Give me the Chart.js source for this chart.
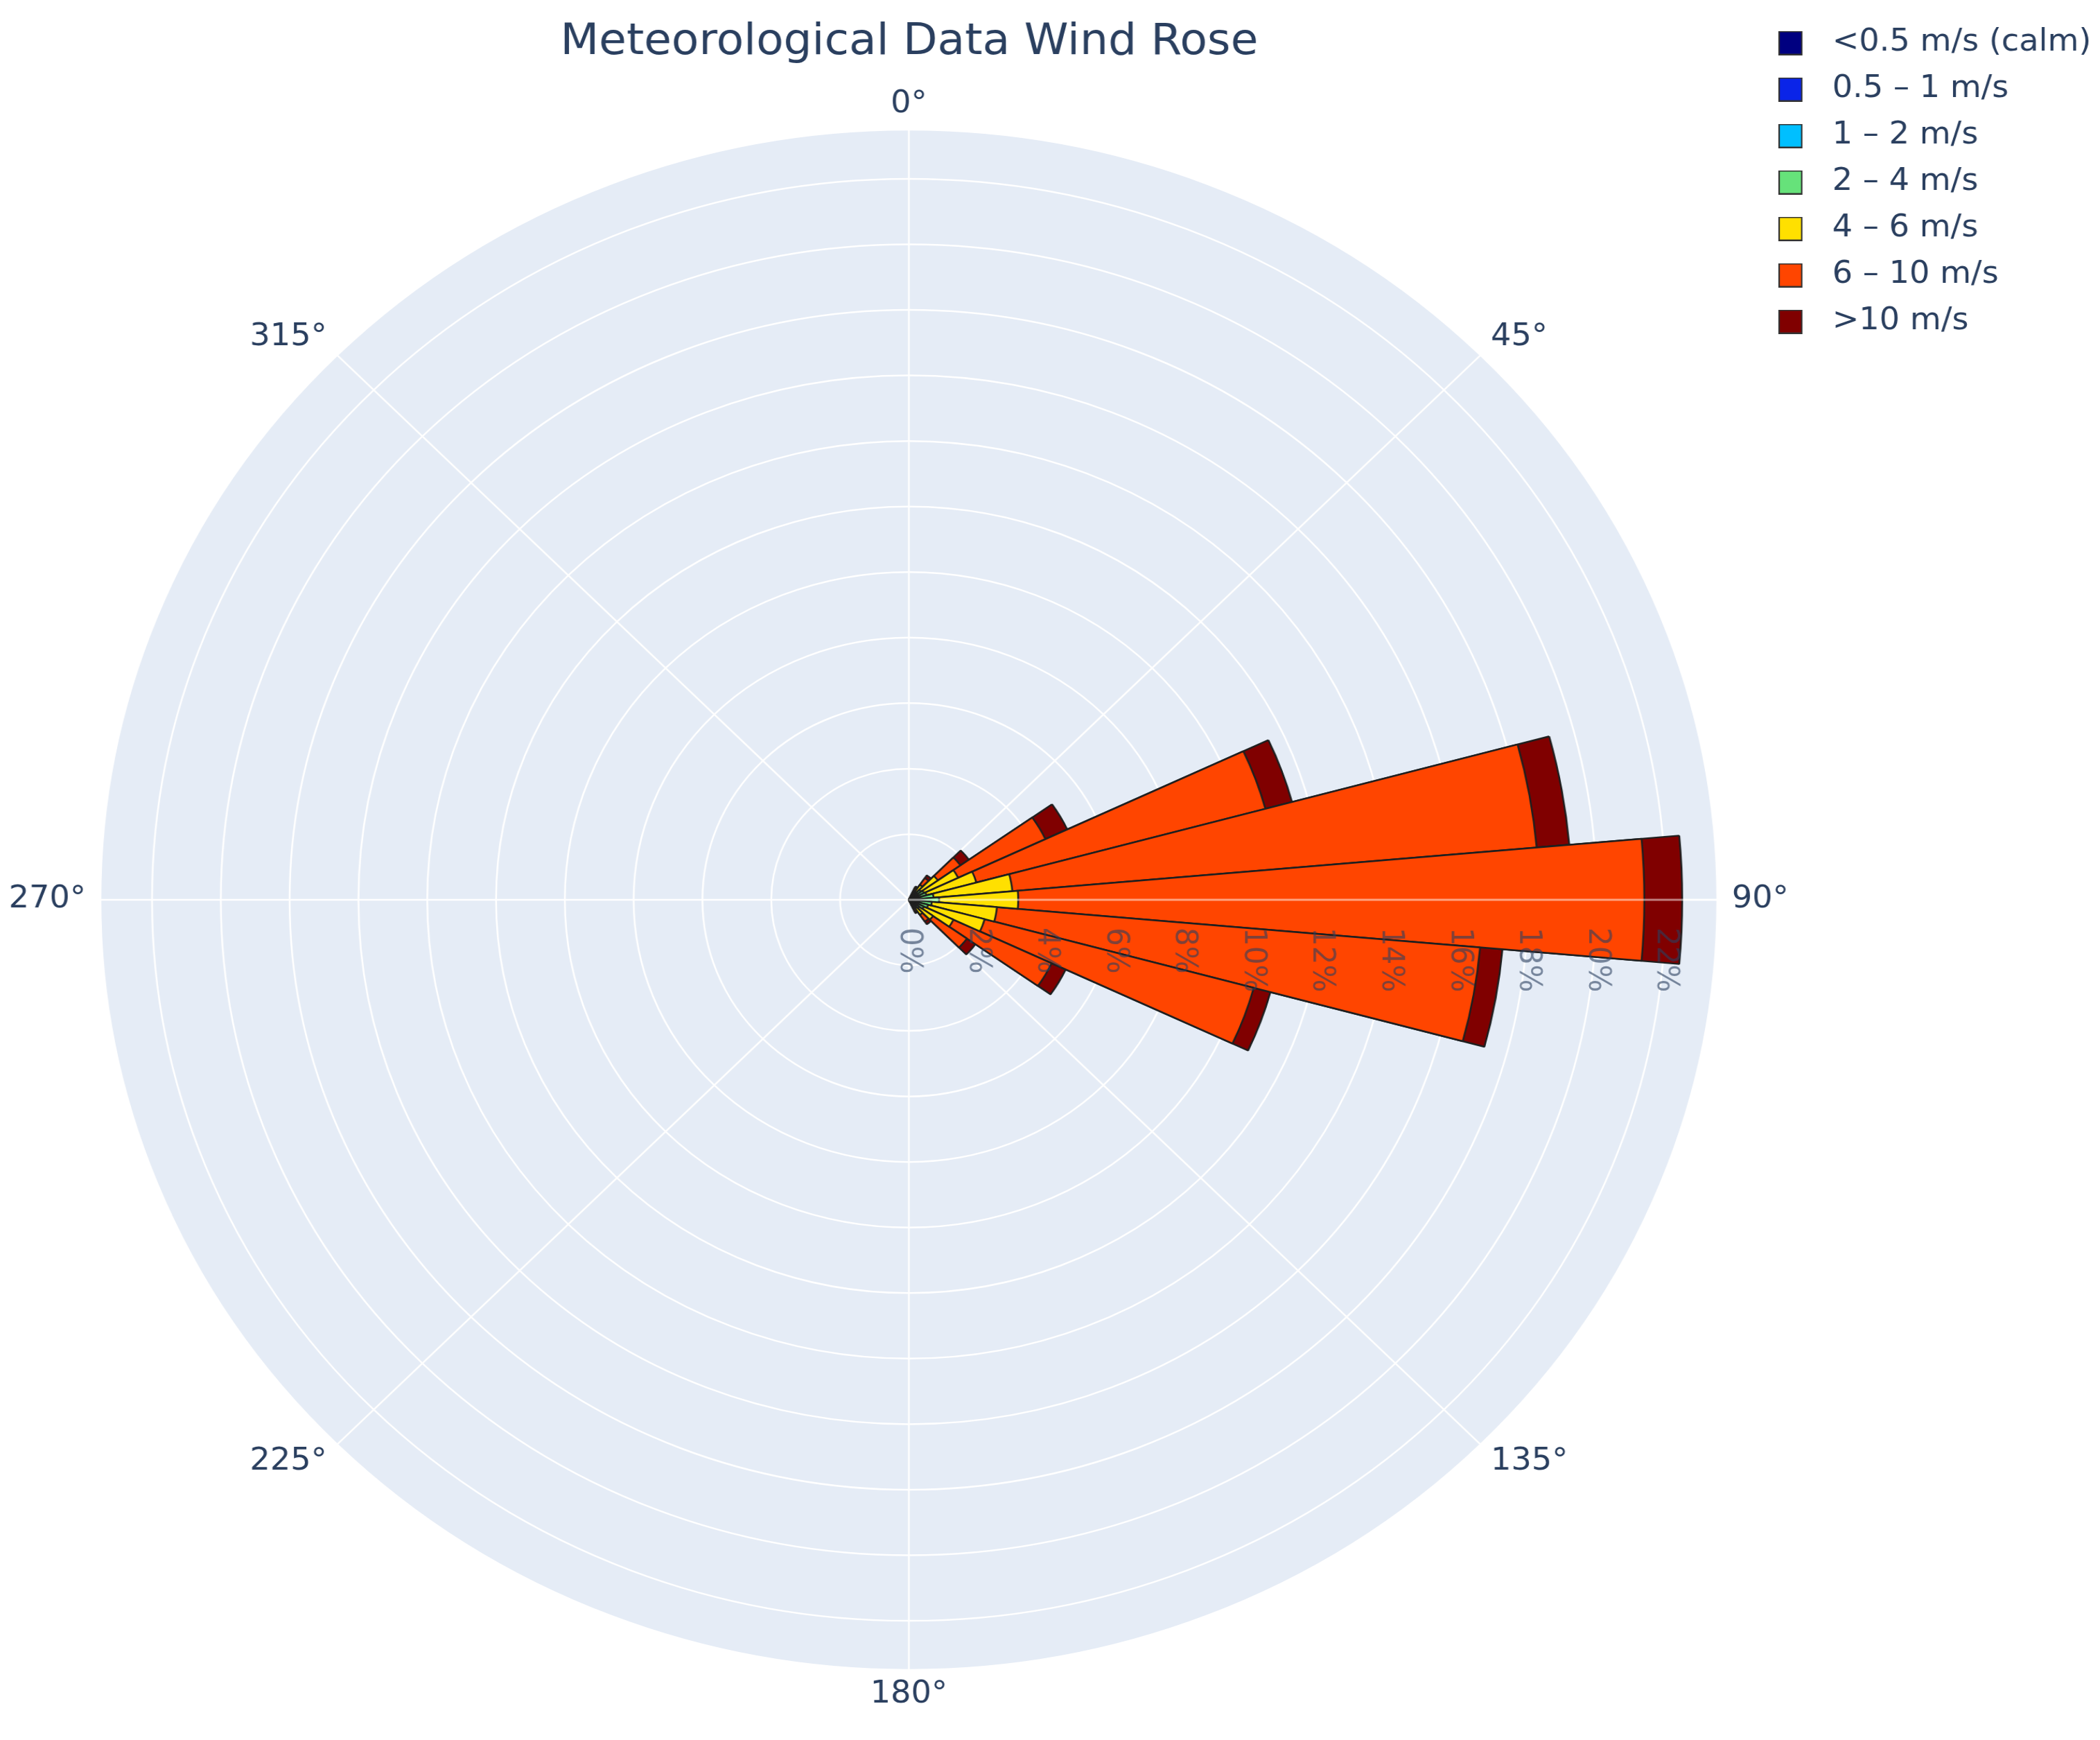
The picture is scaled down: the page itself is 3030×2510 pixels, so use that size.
<!DOCTYPE html>
<html>
<head>
<meta charset="utf-8">
<title>Meteorological Data Wind Rose</title>
<script src="https://cdn.jsdelivr.net/npm/chart.js@4.4.1/dist/chart.umd.min.js"></script>
<style>
    html, body { margin: 0; padding: 0; background: #ffffff; }
    /* the reference picture is a little wider than tall, so the whole chart is stretched sideways */
    #wrap { position: absolute; left: 0; top: 0; width: 2886px; height: 2510px; transform: scaleX(1.0499); transform-origin: 0 0; }
</style>
</head>
<body>
<div id="wrap"><canvas id="windRose"></canvas></div>
<script>
// direction bins (degrees, compass), 10° wide
const directions = [0, 10, 20, 30, 40, 50, 60, 70, 80, 90, 100, 110, 120, 130, 140, 150, 160, 170,
                    180, 190, 200, 210, 220, 230, 240, 250, 260, 270, 280, 290, 300, 310, 320, 330, 340, 350];

const speedBins = ['<0.5 m/s (calm)', '0.5 – 1 m/s', '1 – 2 m/s', '2 – 4 m/s', '4 – 6 m/s', '6 – 10 m/s', '>10 m/s'];
const speedColors = ['#000080', '#0a24e8', '#00bfff', '#66e27a', '#ffe000', '#ff4500', '#800000'];

// frequency (%) per direction bin, one array per speed class
const calm    = [0, 0, 0, 0.02, 0.03, 0.03, 0.03, 0.03, 0.04, 0.05, 0.04, 0.03, 0.03, 0.03, 0.03, 0.02, 0, 0,
                 0, 0, 0, 0, 0, 0, 0, 0, 0, 0, 0, 0, 0, 0, 0, 0, 0, 0];
const speed05 = [0, 0, 0, 0.03, 0.05, 0.05, 0.05, 0.05, 0.06, 0.08, 0.06, 0.05, 0.05, 0.05, 0.05, 0.03, 0, 0,
                 0, 0, 0, 0, 0, 0, 0, 0, 0, 0, 0, 0, 0, 0, 0, 0, 0, 0];
const speed1  = [0, 0, 0, 0.05, 0.08, 0.10, 0.10, 0.10, 0.12, 0.15, 0.12, 0.10, 0.10, 0.08, 0.08, 0.05, 0, 0,
                 0, 0, 0, 0, 0, 0, 0, 0, 0, 0, 0, 0, 0, 0, 0, 0, 0, 0];
const speed2  = [0, 0, 0, 0.10, 0.15, 0.25, 0.30, 0.35, 0.50, 0.60, 0.45, 0.40, 0.30, 0.20, 0.15, 0.10, 0, 0,
                 0, 0, 0, 0, 0, 0, 0, 0, 0, 0, 0, 0, 0, 0, 0, 0, 0, 0];
const speed4  = [0, 0, 0, 0.10, 0.25, 0.60, 1.10, 1.50, 2.30, 2.30, 1.90, 1.70, 0.95, 0.50, 0.25, 0.10, 0, 0,
                 0, 0, 0, 0, 0, 0, 0, 0, 0, 0, 0, 0, 0, 0, 0, 0, 0, 0];
const speed6  = [0, 0, 0, 0.10, 0.25, 0.80, 2.80, 8.70, 15.30, 18.20, 14.10, 8.10, 3.15, 1.20, 0.25, 0.10, 0, 0,
                 0, 0, 0, 0, 0, 0, 0, 0, 0, 0, 0, 0, 0, 0, 0, 0, 0, 0];
const speed10 = [0, 0, 0, 0.05, 0.10, 0.30, 0.70, 0.80, 0.95, 1.10, 0.65, 0.50, 0.45, 0.30, 0.10, 0.05, 0, 0,
                 0, 0, 0, 0, 0, 0, 0, 0, 0, 0, 0, 0, 0, 0, 0, 0, 0, 0];

const angleTicks = [0, 45, 90, 135, 180, 225, 270, 315];
const radialTicks = [0, 2, 4, 6, 8, 10, 12, 14, 16, 18, 20, 22];
const radialMax = 23.5;

const series = [calm, speed05, speed1, speed2, speed4, speed6, speed10];

// polarArea has no stacking, so each class is drawn as its running total;
// dataset 0 is painted last, on top of the longer ones
let running = directions.map(() => 0);
const datasets = series.map((values, i) => {
    running = running.map((v, j) => v + values[j]);
    return {
        label: speedBins[i],
        data: running.slice(),
        backgroundColor: speedColors[i],
        borderColor: '#1f1f1f',
        borderWidth: 2.5
    };
});

const textColor = '#2a3f5f';

// legend swatch: square on the left, empty room after it so the text sits further right
function legendSwatch(color) {
    const c = document.createElement('canvas');
    c.width = 52;
    c.height = 35;
    const g = c.getContext('2d');
    g.fillStyle = color;
    g.fillRect(1, 1, 31, 33);
    g.strokeStyle = '#333333';
    g.lineWidth = 2;
    g.strokeRect(1, 1, 31, 33);
    return c;
}

const roseAxes = {
    id: 'roseAxes',
    beforeDatasetsDraw(chart) {
        const r = chart.scales.r;
        const ctx = chart.ctx;
        const outer = r.getDistanceFromCenterForValue(r.max);
        ctx.save();
        ctx.strokeStyle = '#ffffff';
        ctx.lineWidth = 2.5;
        angleTicks.forEach(a => {
            const t = (a - 90) * Math.PI / 180;
            ctx.beginPath();
            ctx.moveTo(r.xCenter, r.yCenter);
            ctx.lineTo(r.xCenter + outer * Math.cos(t), r.yCenter + outer * Math.sin(t));
            ctx.stroke();
        });
        ctx.restore();
    },
    afterDatasetsDraw(chart) {
        const r = chart.scales.r;
        const ctx = chart.ctx;
        const outer = r.getDistanceFromCenterForValue(r.max);
        ctx.save();
        // radial axis line, pointing east, sits above the bars
        ctx.strokeStyle = 'rgba(255,255,255,0.5)';
        ctx.lineWidth = 3;
        ctx.beginPath();
        ctx.moveTo(r.xCenter, r.yCenter);
        ctx.lineTo(r.xCenter + outer, r.yCenter);
        ctx.stroke();

        ctx.fillStyle = 'rgba(42,63,95,0.6)';
        ctx.font = '42px "DejaVu Sans"';
        ctx.textAlign = 'left';
        ctx.textBaseline = 'middle';
        radialTicks.forEach(v => {
            const d = r.getDistanceFromCenterForValue(v);
            ctx.save();
            ctx.translate(r.xCenter + d, r.yCenter + 40);
            ctx.rotate(Math.PI / 2);
            ctx.fillText(v + '%', 0, 0);
            ctx.restore();
        });
        ctx.restore();
    },
    afterDraw(chart) {
        const r = chart.scales.r;
        const ctx = chart.ctx;
        const outer = r.getDistanceFromCenterForValue(r.max) + 20;
        ctx.save();
        ctx.fillStyle = textColor;
        ctx.font = '44px "DejaVu Sans"';
        ctx.textBaseline = 'middle';
        angleTicks.forEach(a => {
            const t = a * Math.PI / 180;
            const s = Math.sin(t), c = Math.cos(t);
            ctx.textAlign = Math.abs(s) < 0.1 ? 'center' : (s > 0 ? 'left' : 'right');
            ctx.fillText(a + '°', r.xCenter + outer * s, r.yCenter - outer * c - c * 16);
        });
        ctx.restore();
    }
};

Chart.defaults.font.family = '"DejaVu Sans", sans-serif';

new Chart(document.getElementById('windRose'), {
    type: 'polarArea',
    data: {
        labels: directions.map(d => d + '°'),
        datasets: datasets
    },
    options: {
        responsive: true,
        maintainAspectRatio: false,
        animation: false,
        layout: {
            padding: { left: 78, right: 2, top: 17, bottom: 100 }
        },
        scales: {
            r: {
                min: 0,
                max: radialMax,
                startAngle: -5,
                backgroundColor: '#e5ecf6',
                grid: { color: '#ffffff', lineWidth: 2.5, circular: true },
                angleLines: { display: false },
                pointLabels: { display: false },
                ticks: { display: false, stepSize: 2 }
            }
        },
        plugins: {
            title: {
                display: true,
                text: 'Meteorological Data Wind Rose',
                color: textColor,
                fullSize: false,
                font: { size: 61.5, weight: 'normal' },
                padding: { top: 8, bottom: 89 }
            },
            legend: {
                position: 'right',
                align: 'start',
                labels: {
                    color: textColor,
                    font: { size: 44 },
                    usePointStyle: true,
                    pointStyleWidth: 52,
                    boxHeight: 35,
                    padding: 23,
                    generateLabels: chart => chart.data.datasets.map((ds, i) => ({
                        text: ds.label,
                        fillStyle: ds.backgroundColor,
                        strokeStyle: '#333333',
                        lineWidth: 2,
                        pointStyle: legendSwatch(ds.backgroundColor),
                        fontColor: textColor,
                        hidden: !chart.isDatasetVisible(i),
                        datasetIndex: i
                    }))
                }
            },
            tooltip: { enabled: false }
        }
    },
    plugins: [roseAxes]
});
</script>
</body>
</html>
